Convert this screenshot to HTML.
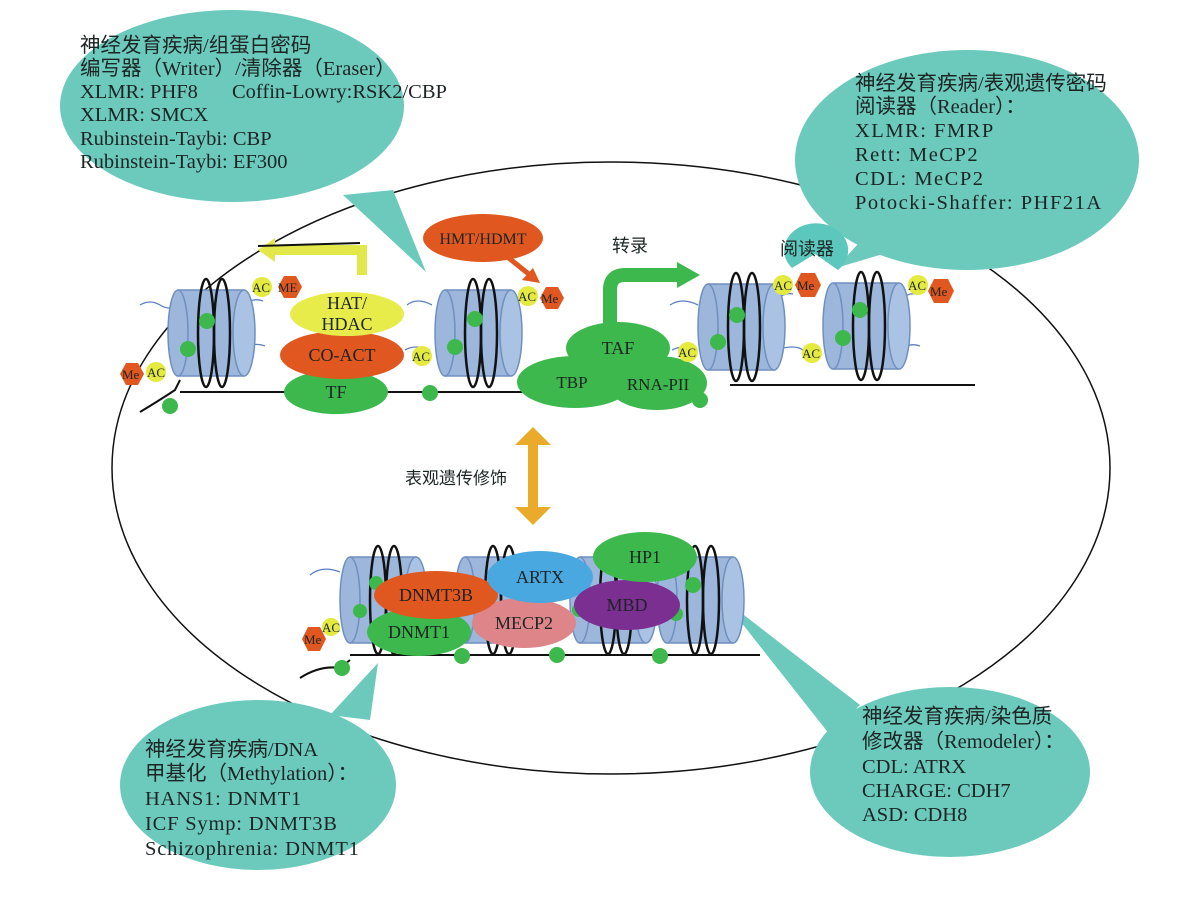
<!DOCTYPE html>
<html><head><meta charset="utf-8"><style>
html,body{margin:0;padding:0;background:#fff;}
svg{display:block;}
text{font-family:"Liberation Serif","Noto Serif CJK SC",serif;fill:#1c2424;}
.cn{font-family:"Liberation Serif","Noto Sans CJK SC",sans-serif;}
</style></head><body>
<svg width="1190" height="898" viewBox="0 0 1190 898" xmlns="http://www.w3.org/2000/svg">
<defs>
<g id="cyl">
  <rect x="0" y="0" width="66" height="86" fill="#9db7dc"/>
  <ellipse cx="0" cy="43" rx="10" ry="43" fill="#9db7dc" stroke="#6f8fbf" stroke-width="1.5"/>
  <line x1="0" y1="0" x2="66" y2="0" stroke="#6f8fbf" stroke-width="1.5"/>
  <line x1="0" y1="86" x2="66" y2="86" stroke="#6f8fbf" stroke-width="1.5"/>
  <ellipse cx="66" cy="43" rx="11" ry="43" fill="#aac3e4" stroke="#6f8fbf" stroke-width="1.5"/>
  <ellipse cx="28" cy="43" rx="8" ry="54" fill="none" stroke="#111" stroke-width="2.5"/>
  <ellipse cx="44" cy="43" rx="8" ry="54" fill="none" stroke="#111" stroke-width="2.5"/>
</g>
</defs>
<ellipse cx="611" cy="468" rx="499" ry="306" fill="none" stroke="#111" stroke-width="1.5"/>

<g fill="#6ccabd">
  <ellipse cx="232" cy="106" rx="172" ry="96"/>
  <polygon points="343,195 393,190 426,272"/>
  <ellipse cx="967" cy="160" rx="172" ry="110"/>
  <polygon points="880,220 930,240 836,268"/>
  <ellipse cx="258" cy="785" rx="138" ry="85"/>
  <polygon points="330,715 370,720 378,663"/>
  <ellipse cx="950" cy="772" rx="140" ry="85"/>
  <polygon points="830,735 860,705 722,598"/>
</g>

<path d="M140,412 Q160,400 175,390 L180,380 M180,392 L560,392 M700,378 L700,392 M730,385 L975,385" fill="none" stroke="#111" stroke-width="2"/>
<g fill="none" stroke="#5a7fc0" stroke-width="1.3">
<path d="M140,305 q10,-6 20,0 t15,0"/><path d="M245,305 q8,-8 18,-4"/><path d="M245,348 q8,-6 20,-2"/>
<path d="M407,305 q10,-8 25,0"/><path d="M510,305 q8,-8 18,-4"/><path d="M405,350 q10,-6 25,0"/>
<path d="M670,305 q12,-8 28,0"/><path d="M775,300 q10,-8 18,-6"/><path d="M672,350 q12,-6 25,0"/><path d="M775,350 q20,-6 28,0"/>
<path d="M900,300 q8,-8 18,-6"/><path d="M900,350 q10,-8 20,-4"/>
<path d="M310,575 q12,-10 30,-3"/>
</g>
<use href="#cyl" x="178" y="290"/>
<use href="#cyl" x="445" y="290"/>
<use href="#cyl" x="708" y="284"/>
<use href="#cyl" x="833" y="283"/>
<g fill="#3cb84c">
<circle cx="207" cy="321" r="8"/><circle cx="188" cy="349" r="8"/>
<circle cx="475" cy="319" r="8"/><circle cx="455" cy="347" r="8"/>
<circle cx="737" cy="315" r="8"/><circle cx="718" cy="342" r="8"/>
<circle cx="860" cy="310" r="8"/><circle cx="843" cy="338" r="8"/>
<circle cx="170" cy="406" r="8"/><circle cx="430" cy="393" r="8"/><circle cx="698" cy="397" r="7"/>
</g>

<path d="M362,275 L362,250 L270,250" fill="none" stroke="#e3e84a" stroke-width="10"/>
<polygon points="258,250 275,238 275,262" fill="#e3e84a"/>
<path d="M258,246 L360,243" stroke="#111" stroke-width="2" fill="none"/>

<ellipse cx="336" cy="392" rx="52" ry="22" fill="#3cb84c"/>
<ellipse cx="342" cy="355" rx="62" ry="24" fill="#e0571f"/>
<ellipse cx="347" cy="314" rx="57" ry="22" fill="#e8ec4a"/>
<text x="347" y="309" font-size="18" text-anchor="middle">HAT/</text>
<text x="347" y="330" font-size="18" text-anchor="middle">HDAC</text>
<text x="342" y="361" font-size="18" text-anchor="middle">CO-ACT</text>
<text x="336" y="398" font-size="18" text-anchor="middle">TF</text>

<ellipse cx="483" cy="238" rx="60" ry="24" fill="#e0571f"/>
<text x="483" y="244" font-size="16" text-anchor="middle">HMT/HDMT</text>
<path d="M505,255 L530,275" stroke="#e0571f" stroke-width="5"/>
<polygon points="540,283 522,280 533,268" fill="#e0571f"/>

<g fill="#3cb84c">
<path d="M610,335 L610,290 Q610,275 625,275 L680,275" fill="none" stroke="#3cb84c" stroke-width="14"/>
<polygon points="677,262 700,275 677,288"/>
<ellipse cx="618" cy="348" rx="52" ry="26"/>
<ellipse cx="575" cy="382" rx="58" ry="26"/>
<ellipse cx="657" cy="383" rx="50" ry="27"/>
<circle cx="700" cy="400" r="8"/>
</g>
<text x="618" y="354" font-size="18" text-anchor="middle">TAF</text>
<text x="572" y="388" font-size="17" text-anchor="middle">TBP</text>
<text x="658" y="390" font-size="17" text-anchor="middle">RNA-PII</text>
<text x="612" y="252" font-size="18" class="cn">转录</text>

<path d="M792,268 A32,27 0 1 1 838,270 L815,254 Z" fill="#5cc8bd"/>
<text x="780" y="255" font-size="18" class="cn">阅读器</text>

<g font-size="13">
<circle cx="262" cy="287" r="10" fill="#e4ea3f"/><text x="252" y="292">AC</text>
<polygon points="278,287 284,276 296,276 302,287 296,298 284,298" fill="#e0571f"/><text x="278" y="292">ME</text>
<circle cx="156" cy="372" r="10" fill="#e4ea3f"/><text x="147" y="377">AC</text>
<polygon points="120,374 126,363 138,363 144,374 138,385 126,385" fill="#e0571f"/><text x="122" y="379">Me</text>
<circle cx="422" cy="356" r="10" fill="#e4ea3f"/><text x="412" y="361">AC</text>
<circle cx="528" cy="296" r="10" fill="#e4ea3f"/><text x="518" y="301">AC</text>
<polygon points="540,298 546,287 558,287 564,298 558,309 546,309" fill="#e0571f"/><text x="541" y="303">Me</text>
<circle cx="688" cy="352" r="10" fill="#e4ea3f"/><text x="678" y="357">AC</text>
<circle cx="783" cy="285" r="10" fill="#e4ea3f"/><text x="774" y="290">AC</text>
<polygon points="795,285 801,273 815,273 821,285 815,297 801,297" fill="#e0571f"/><text x="797" y="290">Me</text>
<circle cx="812" cy="353" r="10" fill="#e4ea3f"/><text x="802" y="358">AC</text>
<circle cx="918" cy="285" r="10" fill="#e4ea3f"/><text x="908" y="290">AC</text>
<polygon points="928,291 934,279 948,279 954,291 948,303 934,303" fill="#e0571f"/><text x="930" y="296">Me</text>
</g>

<polygon points="533,427 551,445 538,445 538,507 551,507 533,525 515,507 528,507 528,445 515,445" fill="#eaaa2a"/>
<text x="405" y="484" font-size="17" class="cn">表观遗传修饰</text>

<path d="M300,678 Q320,665 340,668 L350,660 M350,655 L760,655" fill="none" stroke="#111" stroke-width="2"/>
<use href="#cyl" x="350" y="557"/>
<use href="#cyl" x="465" y="557"/>
<use href="#cyl" x="580" y="557"/>
<use href="#cyl" x="667" y="557"/>
<g fill="#3cb84c">
<circle cx="376" cy="583" r="7"/><circle cx="360" cy="611" r="7"/>
<circle cx="342" cy="668" r="8"/><circle cx="462" cy="656" r="8"/><circle cx="557" cy="655" r="8"/><circle cx="660" cy="656" r="8"/>
<circle cx="693" cy="585" r="8"/><circle cx="676" cy="614" r="7"/>
<circle cx="579" cy="610" r="7"/>
</g>
<ellipse cx="524" cy="623" rx="52" ry="25" fill="#dd8588"/>
<ellipse cx="419" cy="632" rx="52" ry="24" fill="#3cb84c"/>
<ellipse cx="436" cy="595" rx="62" ry="24" fill="#e0571f"/>
<ellipse cx="540" cy="577" rx="53" ry="26" fill="#4aa8e0"/>
<ellipse cx="627" cy="605" rx="53" ry="25" fill="#7a2f91"/>
<ellipse cx="645" cy="557" rx="52" ry="25" fill="#3cb84c"/>
<g font-size="18" text-anchor="middle">
<text x="436" y="601">DNMT3B</text>
<text x="419" y="638">DNMT1</text>
<text x="540" y="583">ARTX</text>
<text x="524" y="629">MECP2</text>
<text x="627" y="611">MBD</text>
<text x="645" y="563">HP1</text>
</g>
<g font-size="13">
<circle cx="331" cy="627" r="9" fill="#e4ea3f"/><text x="322" y="632">AC</text>
<polygon points="302,639 308,627 320,627 326,639 320,651 308,651" fill="#e0571f"/><text x="304" y="644">Me</text>
</g>

<g font-size="20.5">
<text x="80" y="52" class="cn">神经发育疾病/组蛋白密码</text>
<text x="80" y="75" class="cn">编写器（Writer）/清除器（Eraser）</text>
<text x="80" y="98">XLMR: PHF8</text><text x="232" y="98">Coffin-Lowry:RSK2/CBP</text>
<text x="80" y="121">XLMR: SMCX</text>
<text x="80" y="145">Rubinstein-Taybi: CBP</text>
<text x="80" y="168">Rubinstein-Taybi: EF300</text>
</g>
<g font-size="20.5">
<text x="855" y="90" class="cn">神经发育疾病/表观遗传密码</text>
<text x="855" y="113" class="cn">阅读器（Reader）：</text>
<g letter-spacing="1.5">
<text x="855" y="137">XLMR: FMRP</text>
<text x="855" y="161">Rett: MeCP2</text>
<text x="855" y="185">CDL: MeCP2</text>
<text x="855" y="209">Potocki-Shaffer: PHF21A</text>
</g>
</g>
<g font-size="20.5">
<text x="145" y="756" class="cn">神经发育疾病/DNA</text>
<text x="145" y="780" class="cn">甲基化（Methylation）：</text>
<g letter-spacing="0.8">
<text x="145" y="805">HANS1: DNMT1</text>
<text x="145" y="830">ICF Symp: DNMT3B</text>
<text x="145" y="855">Schizophrenia: DNMT1</text>
</g>
</g>
<g font-size="20.5">
<text x="862" y="723" class="cn">神经发育疾病/染色质</text>
<text x="862" y="748" class="cn">修改器（Remodeler）：</text>
<text x="862" y="773">CDL: ATRX</text>
<text x="862" y="797">CHARGE: CDH7</text>
<text x="862" y="821">ASD: CDH8</text>
</g>
</svg>
</body></html>
